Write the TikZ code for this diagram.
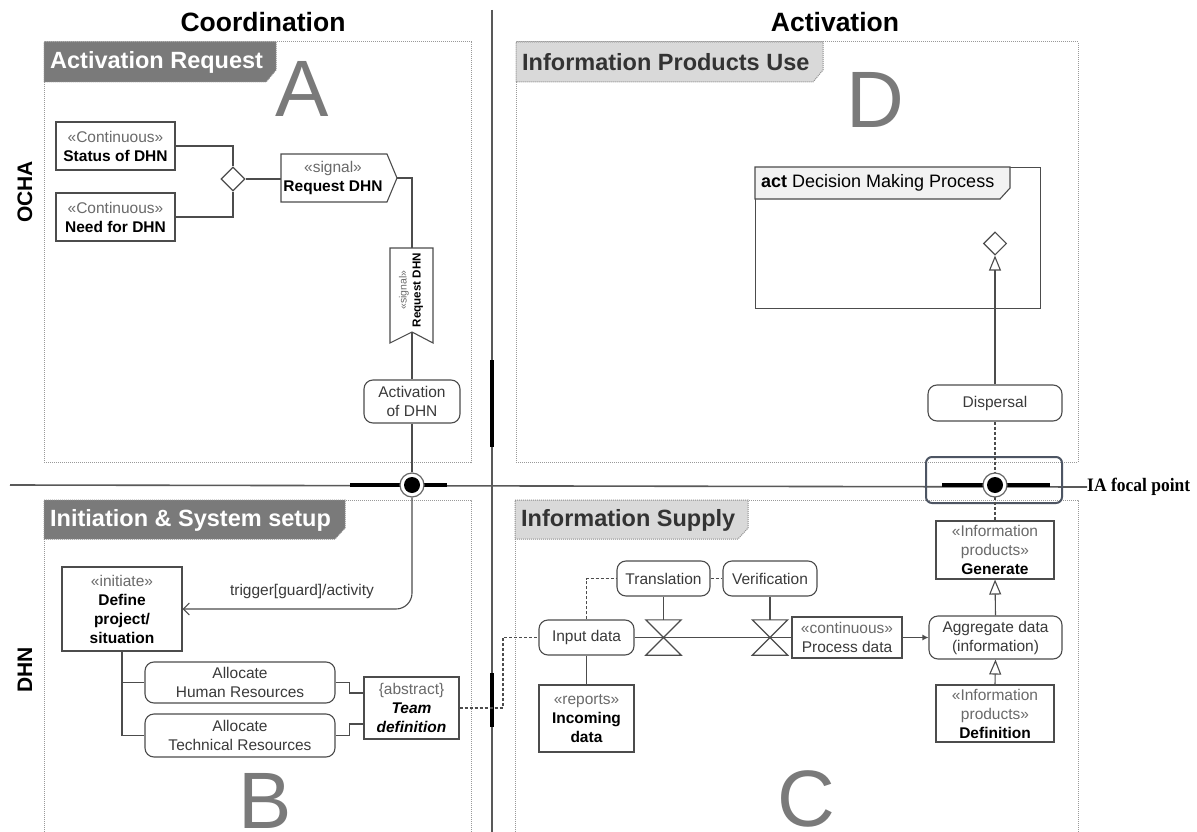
\documentclass[tikz,border=0pt]{standalone}
\usepackage{fontspec}
\usepackage{graphicx}
\setmainfont{Liberation Sans}
\newfontfamily\iaserif{Liberation Serif}
\usetikzlibrary{arrows.meta,shapes.geometric,calc}
\definecolor{framecol}{HTML}{4D5563}
\definecolor{stcol}{HTML}{6A6A6A}
\definecolor{actcol}{HTML}{3A3A3A}
\newcommand\stereo[1]{\textcolor{stcol}{#1}}
\begin{document}
\begin{tikzpicture}[x=1pt,y=-1pt,
  txt/.style={font=\fontsize{15.5}{19}\selectfont},
  box/.style={txt, draw=black!70, line width=1.1pt, fill=white, align=center, inner sep=0pt},
  rbox/.style={box, rounded corners=9pt, text=actcol},
  conn/.style={draw=black!70, line width=1.1pt},
  dconn/.style={draw=black!70, line width=1.1pt, dash pattern=on 3pt off 2pt},
  panel/.style={draw=black!40, line width=1pt, dash pattern=on 1pt off 1pt},
  darktab/.style={fill=black!52, draw=black!45, line width=1pt, dash pattern=on 1pt off 1pt},
  lighttab/.style={fill=black!15, draw=black!45, line width=1pt, dash pattern=on 1pt off 1pt},
  tabtext/.style={font=\fontsize{23.5}{23.5}\selectfont\bfseries, anchor=west, inner sep=0pt},
  bigletter/.style={font=\fontsize{80}{80}\selectfont, text=black!52, anchor=base, inner sep=0pt},
  heading/.style={font=\fontsize{26.5}{26.5}\selectfont\bfseries, inner sep=0pt},
  sidehead/.style={font=\fontsize{21}{21}\selectfont\bfseries, inner sep=0pt, rotate=90},
  opentri/.style={-{Triangle[open, length=15pt, width=12pt]}},
  axisline/.style={draw=black!65, line width=1.6pt},
  thickbar/.style={draw=black, line width=4pt},
  cross/.style={circle, draw=black!60, fill=white, line width=1.2pt, minimum size=24pt, inner sep=0pt},
]
\useasboundingbox (0,0) rectangle (1197,832);
\fill[white] (0,0) rectangle (1197,832);

% ---------- panels ----------
\draw[panel] (44,42) rectangle (471,462);
\draw[panel] (44,832) -- (44,500) -- (471,500) -- (471,832);
\draw[panel] (516,42) rectangle (1078,462);
\draw[panel] (515,832) -- (515,500) -- (1078,500) -- (1078,832);

\draw[darktab] (44,42) -- (276,42) -- (276,70) -- (266,82) -- (44,82) -- cycle;
\node[tabtext, text=white] (tabA) at (50,62) {Activation Request};
\draw[darktab] (44,500) -- (345,500) -- (345,528) -- (335,539) -- (44,539) -- cycle;
\node[tabtext, text=white] (tabB) at (50,520) {Initiation \& System setup};
\draw[lighttab] (516,42) -- (823,42) -- (823,70) -- (813,82) -- (516,82) -- cycle;
\node[tabtext, text=black!80] (tabD) at (522,62) {Information Products Use};
\draw[lighttab] (515,500) -- (748,500) -- (748,528) -- (738,539) -- (515,539) -- cycle;
\node[tabtext, text=black!80] (tabC) at (521,520) {Information Supply};

\node[bigletter] (letA) at (302,117) {A};
\node[bigletter] (letB) at (265,828) {B};
\node[bigletter] (letC) at (806,826) {C};
\node[bigletter] (letD) at (875,128) {D};

% ---------- headings ----------
\node[heading] (hcoord) at (263,22) {Coordination};
\node[heading] (hact) at (835,22) {Activation};
\node[sidehead] (hocha) at (25,192) {OCHA};
\node[sidehead] (hdhn) at (25,670) {DHN};

% ---------- axes ----------
\node[anchor=west, inner sep=0pt] (ia) at (1087,487) {\scalebox{0.92}[1]{\fontsize{19}{19}\selectfont\iaserif\bfseries IA focal point}};
\coordinate (hstart) at (10,485);
\coordinate (vtop) at (492,10);
\coordinate (vbot) at (492,832);
\draw[axisline] (hstart) -- (ia.west);
\draw[axisline] (vtop) -- (vbot);
\draw[thickbar] (492,360) -- (492,447);
\draw[thickbar] (492,673) -- (492,727);
\draw[thickbar] (350,485) -- (447,485);
\draw[thickbar] (942,485) -- (1050,485);
\draw[draw=framecol, line width=2pt, rounded corners=6pt] (926,457) rectangle (1062,503);

% ---------- panel A ----------
\node[box, minimum width=119pt, minimum height=48pt] (status) at (115.5,146) {\stereo{«Continuous»}\\\textbf{Status of DHN}};
\node[box, minimum width=119pt, minimum height=48pt] (need) at (115.5,217) {\stereo{«Continuous»}\\\textbf{Need for DHN}};
\node[diamond, draw=black!70, fill=white, line width=1.1pt, minimum width=24pt, minimum height=24pt, inner sep=0pt] (dA) at (233,179) {};
\draw[conn, fill=white] (281,154) -- (387,154) -- (397,178) -- (387,202) -- (281,202) -- cycle;
\node[txt, align=center, inner sep=0pt] (reqsig) at (333,178) {\stereo{«signal»}\\\textbf{Request DHN}};
\coordinate (reqin) at (281,179);
\coordinate (reqtip) at (397,178);
\draw[conn, fill=white] (390,248) -- (433,248) -- (433,343) -- (412,332) -- (390,343) -- cycle;
\node[rotate=90, align=center, inner sep=0pt, font=\fontsize{11.6}{14}\selectfont] (rsig) at (411,290) {\stereo{\fontsize{10.5}{12}\selectfont«signal»}\\\textbf{Request DHN}};
\coordinate (rsigtop) at (412,248);
\coordinate (rsigbot) at (412,332);
\node[rbox, minimum width=96pt, minimum height=43pt] (actdhn) at (412,401.5) {Activation\\of DHN};

\draw[conn] (status.east) -| (dA.north);
\draw[conn] (need.east) -| (dA.south);
\draw[conn] (dA.east) -- (reqin);
\draw[conn] (reqtip) -| (rsigtop);
\draw[conn] (rsigbot) -- (actdhn.north);

% ---------- panel B ----------
\node[box, minimum width=120pt, minimum height=84pt] (define) at (122,609) {\stereo{«initiate»}\\\textbf{Define}\\\textbf{project/}\\\textbf{situation}};
\node[rbox, minimum width=190pt, minimum height=41pt] (human) at (240,682.5) {Allocate\\Human Resources};
\node[rbox, minimum width=190pt, minimum height=43pt] (tech) at (240,735.5) {Allocate\\Technical Resources};
\node[box, minimum width=95pt, minimum height=62pt] (team) at (411.5,708) {\stereo{\{abstract\}}\\\textbf{\textit{Team}}\\\textbf{\textit{definition}}};
\node[txt, text=actcol, inner sep=0pt] (trig) at (302,591) {trigger[guard]/activity};

\draw[conn] (define.south) |- (tech.west);
\draw[conn] (define.south |- human.west) -- (human.west);
\draw[conn] (human.east) -- ++(14,0) |- ($(team.west)+(0,-15)$);
\draw[conn] (tech.east) -- ++(14,0) |- ($(team.west)+(0,16)$);

% ---------- panel C ----------
\node[rbox, minimum width=95pt, minimum height=35pt] (input) at (586.5,637.5) {Input data};
\node[box, minimum width=95pt, minimum height=67pt] (incoming) at (586.5,718.5) {\stereo{«reports»}\\\textbf{Incoming}\\\textbf{data}};
\node[rbox, minimum width=93pt, minimum height=35pt] (trans) at (663.5,578.5) {Translation};
\node[rbox, minimum width=94pt, minimum height=35pt] (verif) at (770,578.5) {Verification};
\node[minimum width=35pt, minimum height=35pt, inner sep=0pt] (hg1) at (663.5,637.5) {};
\node[minimum width=35pt, minimum height=35pt, inner sep=0pt] (hg2) at (770,637.5) {};
\node[box, minimum width=110pt, minimum height=41pt, text=actcol] (proc) at (847,637.5) {\stereo{«continuous»}\\Process data};
\node[rbox, minimum width=133pt, minimum height=43pt] (aggr) at (995.5,637.5) {Aggregate data\\(information)};
\node[box, minimum width=118pt, minimum height=58pt] (gen) at (995,550) {\stereo{«Information}\\\stereo{products»}\\\textbf{Generate}};
\node[box, minimum width=118pt, minimum height=57pt] (defn) at (995,713.5) {\stereo{«Information}\\\stereo{products»}\\\textbf{Definition}};

\draw[conn] (input.east) -- (proc.west);
\draw[conn] (hg1.north west) -- (hg1.north east) -- (hg1.south west) -- (hg1.south east) -- cycle;
\draw[conn] (hg2.north west) -- (hg2.north east) -- (hg2.south west) -- (hg2.south east) -- cycle;
\draw[conn] (trans.south) -- (hg1.north);
\draw[conn] (verif.south) -- (hg2.north);
\draw[conn] (input.south) -- (incoming.north);
\draw[dconn] (input.north) |- (trans.west);
\draw[dconn] (trans.east) -- (verif.west);
\coordinate (dj) at (503,708);
\draw[dconn] (team.east) -- (dj) |- (input.west);
\draw[conn, -{Latex[length=6pt, width=6pt]}] (proc.east) -- (aggr.west);
\draw[conn, opentri] (aggr.north) -- (gen.south);
\draw[conn, opentri] (defn.north) -- (aggr.south);

% ---------- panel D ----------
\node[draw=black!70, line width=1.1pt, minimum width=285pt, minimum height=141pt, inner sep=0pt, anchor=north west] (actframe) at (755,167) {};
\draw[draw=black!70, fill=black!5, line width=1.1pt] (755,167) -- (1010,167) -- (1010,188) -- (1000,199) -- (755,199) -- cycle;
\node[anchor=west, inner sep=0pt, font=\fontsize{18}{18}\selectfont] (acttitle) at (761,183) {\textbf{act} Decision Making Process};
\node[diamond, draw=black!70, fill=white, line width=1.1pt, minimum width=23pt, minimum height=23pt, inner sep=0pt] (dD) at (995,243.5) {};
\node[rbox, minimum width=134pt, minimum height=36pt] (disp) at (995,403) {Dispersal};
\draw[conn, opentri] (disp.north) -- (dD.south);
\draw[dconn] (disp.south) -- (gen.north);

% ---------- trigger and crosshairs ----------
\node[cross] (cx1) at (412,485) {};
\node[cross] (cx2) at (995,485) {};
\draw[conn] (actdhn.south) -- (cx1.north);
\draw[conn, rounded corners=16pt, -{Straight Barb[length=6pt, width=12pt]}] (cx1.south) |- (define.east);
\fill (cx1) circle (8pt);
\fill (cx2) circle (8pt);
\end{tikzpicture}
\end{document}
